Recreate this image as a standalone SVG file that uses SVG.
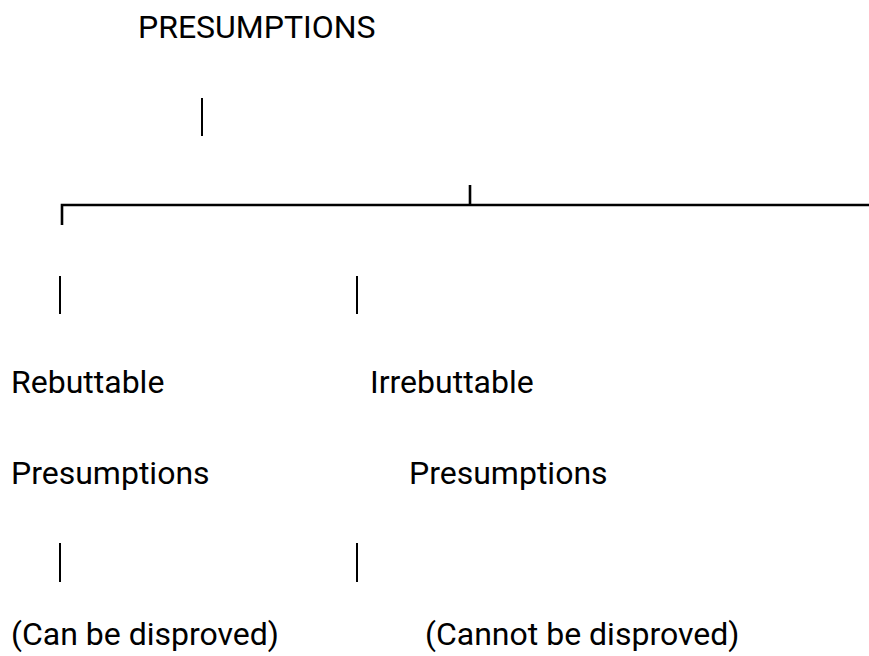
<svg xmlns="http://www.w3.org/2000/svg" width="869" height="656" viewBox="0 0 869 656">
  <style>
    .t { font-family: Roboto, "Liberation Sans", sans-serif; font-size: 32px; fill: #000; }
    .c { stroke: #000; fill: none; }
    .p { stroke-width: 2; }
    .h { stroke-width: 2.6; }
  </style>
  <rect width="869" height="656" fill="#fff"/>
  <g id="connectors">
    <line class="c p" x1="202" y1="98" x2="202" y2="136"/>
    <polyline class="c h" points="62,225 62,205 869,205"/>
    <line class="c h" x1="470" y1="185" x2="470" y2="205"/>
    <line class="c p" x1="60" y1="276" x2="60" y2="314"/>
    <line class="c p" x1="357" y1="276" x2="357" y2="314"/>
    <line class="c p" x1="60" y1="543" x2="60" y2="582"/>
    <line class="c p" x1="357" y1="543" x2="357" y2="582"/>
  </g>
  <g id="root">
    <text class="t" x="138" y="38">PRESUMPTIONS</text>
  </g>
  <g id="rebuttable">
    <text class="t" x="11" y="393">Rebuttable</text>
    <text class="t" x="11" y="484">Presumptions</text>
  </g>
  <g id="irrebuttable">
    <text class="t" x="370" y="393">Irrebuttable</text>
    <text class="t" x="409" y="484">Presumptions</text>
  </g>
  <g id="rebuttable-note">
    <text class="t" x="11" y="645">(Can be disproved)</text>
  </g>
  <g id="irrebuttable-note">
    <text class="t" x="425" y="645">(Cannot be disproved)</text>
  </g>
</svg>
